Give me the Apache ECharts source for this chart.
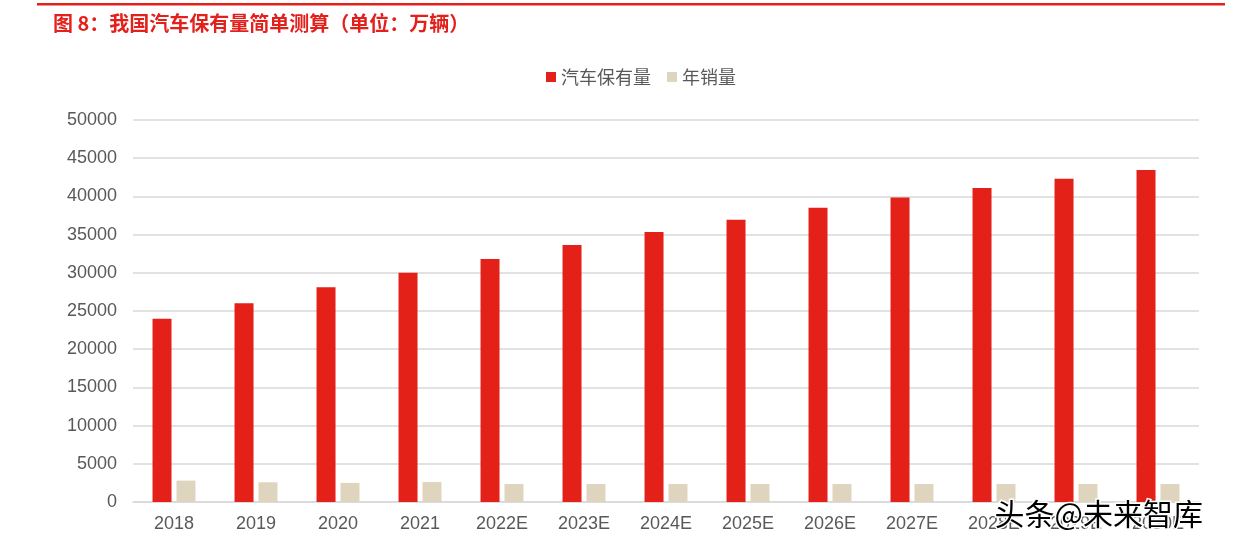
<!DOCTYPE html>
<html><head><meta charset="utf-8">
<script src="https://cdn.jsdelivr.net/npm/echarts@6/dist/echarts.min.js"></script>
<style>html,body{margin:0;padding:0;background:#fff}#c{width:1233px;height:549px}</style>
</head><body><div id="c"></div>
<script>
var categories = ['2018','2019','2020','2021','2022E','2023E','2024E','2025E','2026E','2027E','2028E','2029E','2030E'];
var ownership = [24000,26000,28100,30000,31800,33650,35350,36950,38500,39850,41100,42300,43450];
var sales = [2800,2580,2500,2620,2360,2360,2360,2360,2360,2360,2360,2360,2360];
var seriesNames = ['汽车保有量','年销量'];
var titleText = '图 8：我国汽车保有量简单测算（单位：万辆）';
var watermark = '头条@未来智库';

var chart = echarts.init(document.getElementById('c'));
var font = 'Arial, "Liberation Sans", "Noto Sans CJK SC", sans-serif';
chart.setOption({
  animation: false,
  title: {text: titleText, left: 48, top: 8, textStyle: {color: '#E3201B', fontSize: 20, fontWeight: 'bold', fontFamily: '"Noto Sans CJK SC", sans-serif'}},
  graphic: [
    {type: 'rect', shape: {x: 37, y: 3, width: 1188, height: 2.5}, style: {fill: '#E3201B'}},
    {type: 'text', left: 993, top: 497, z: 100, style: {text: watermark, fontSize: 30, fill: '#000', stroke: '#fff', lineWidth: 3, fontFamily: '"Noto Sans CJK SC", sans-serif'}}
  ],
  legend: {
    data: seriesNames, top: 63, left: 541, itemWidth: 10, itemHeight: 10, itemGap: 16,
    icon: 'rect',
    textStyle: {color: '#595959', fontSize: 18, fontFamily: '"Noto Sans CJK SC", sans-serif'}
  },
  grid: {left: 133, right: 34, top: 120, bottom: 47},
  xAxis: {
    type: 'category', data: categories,
    axisLine: {lineStyle: {color: '#D9D9D9', width: 1.5}},
    axisTick: {show: false},
    axisLabel: {color: '#595959', fontSize: 18, margin: 13, fontFamily: font, interval: 0}
  },
  yAxis: {
    type: 'value', min: 0, max: 50000, interval: 5000,
    axisLine: {show: false}, axisTick: {show: false},
    axisLabel: {color: '#595959', fontSize: 18, margin: 16, fontFamily: font, formatter: function (v) { return String(v); }},
    splitLine: {lineStyle: {color: '#D9D9D9', width: 1.5}}
  },
  series: [
    {name: seriesNames[0], type: 'bar', data: ownership, barWidth: 19, barGap: '26%', itemStyle: {color: '#E32119'}},
    {name: seriesNames[1], type: 'bar', data: sales, barWidth: 19, itemStyle: {color: '#DFD5BE'}}
  ]
});
</script></body></html>
